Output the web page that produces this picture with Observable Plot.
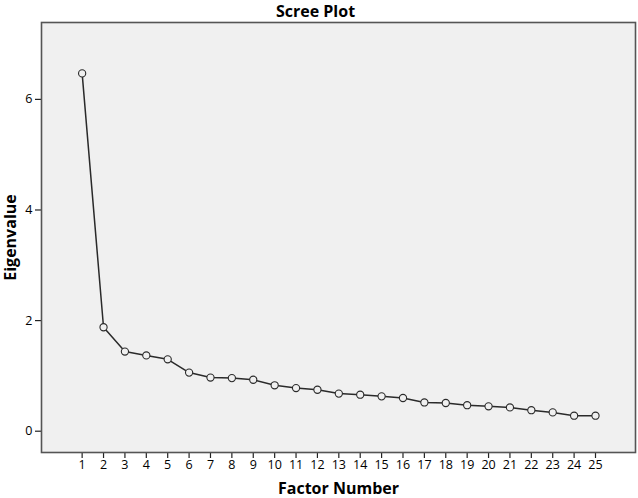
<!DOCTYPE html>
<html>
<head>
<meta charset="utf-8">
<script src="https://cdn.jsdelivr.net/npm/d3@7"></script>
<script src="https://cdn.jsdelivr.net/npm/@observablehq/plot@0.6"></script>
<style>
  html, body { margin: 0; padding: 0; background: white; }
</style>
</head>
<body>
<div id="chart"></div>
<script>
const factors = [1,2,3,4,5,6,7,8,9,10,11,12,13,14,15,16,17,18,19,20,21,22,23,24,25];
const eigenvalues = [6.47,1.88,1.44,1.37,1.30,1.06,0.97,0.96,0.93,0.83,0.78,0.75,0.68,0.66,0.63,0.60,0.52,0.51,0.47,0.45,0.43,0.38,0.34,0.28,0.28];
const yTicks = [0,2,4,6];
const titleText = "Scree Plot";
const xLabel = "Factor Number";
const yLabel = "Eigenvalue";

const data = factors.map((f, i) => ({factor: f, eigen: eigenvalues[i]}));
const fontFam = "'Open Sans', 'DejaVu Sans', sans-serif";

const chart = Plot.plot({
  width: 638,
  height: 498,
  marginLeft: 41,
  marginRight: 3,
  marginTop: 22,
  marginBottom: 46,
  style: {fontFamily: fontFam, fontSize: "12px", background: "white", color: "#000"},
  x: {domain: [-0.9, 26.87]},
  y: {domain: [-0.385, 7.39]},
  marks: [
    Plot.frame({fill: "#f0f0f0"}),
    Plot.axisX({ticks: factors, tickFormat: d => String(d), tickSize: 6, tickPadding: 2, label: null, stroke: "#222", strokeWidth: 1.2, fontSize: 12.5}),
    Plot.axisY({ticks: yTicks, tickFormat: d => String(d), tickSize: 6, tickPadding: 3, label: null, stroke: "#222", strokeWidth: 1.2, fontSize: 12.5}),
    Plot.line(data, {x: "factor", y: "eigen", stroke: "#2a2a2a", strokeWidth: 1.5}),
    Plot.dot(data, {x: "factor", y: "eigen", r: 3.6, stroke: "#2a2a2a", strokeWidth: 1.1, fill: "#f0f0f0"}),
    Plot.frame({stroke: "#555", strokeWidth: 1.6}),
    Plot.text([titleText], {text: d => d, frameAnchor: "top", lineAnchor: "middle", textAnchor: "middle", dx: -23, dy: -11, fontSize: 16, fontWeight: "bold", fill: "#000"}),
    Plot.text([xLabel], {text: d => d, frameAnchor: "bottom", lineAnchor: "middle", textAnchor: "middle", dx: 0, dy: 36.5, fontSize: 16, fontWeight: "bold", fill: "#000"}),
    Plot.text([yLabel], {text: d => d, frameAnchor: "left", lineAnchor: "middle", textAnchor: "middle", dx: -31, rotate: -90, fontSize: 16, fontWeight: "bold", fill: "#000"})
  ]
});
document.getElementById("chart").appendChild(chart);
</script>
</body>
</html>
